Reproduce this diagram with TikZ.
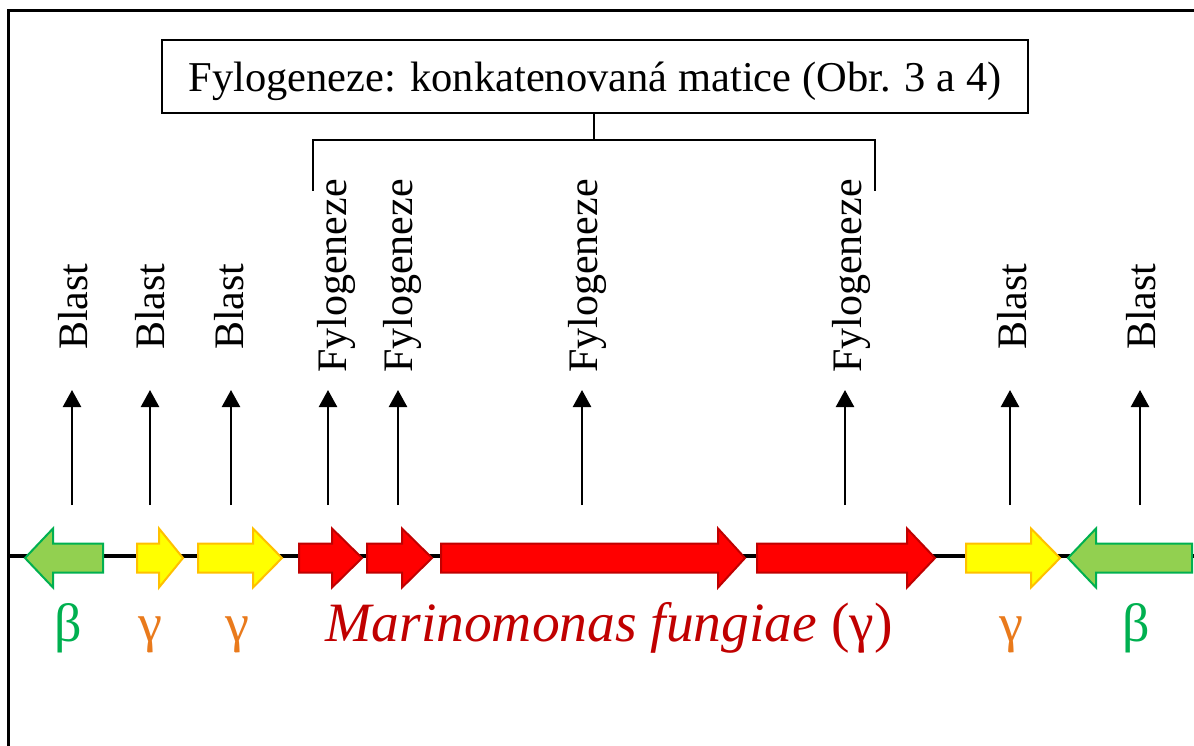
\documentclass[tikz,border=0pt]{standalone}
\usepackage{fontspec}
\setmainfont{Liberation Serif}
\usetikzlibrary{arrows.meta}

\definecolor{redfill}{HTML}{FF0000}
\definecolor{redline}{HTML}{C00000}
\definecolor{yellowfill}{HTML}{FFFF00}
\definecolor{yellowline}{HTML}{FFC000}
\definecolor{greenfill}{HTML}{92D050}
\definecolor{greenline}{HTML}{00B050}
\definecolor{gammaorange}{HTML}{E97A1C}

% gene arrow: fill, outline, tail x, head base x, tip x
\newcommand\genearrow[5]{%
  \filldraw[fill=#1, draw=#2, line width=2pt]
    (#3,543.5) -- (#4,543.5) -- (#4,528.5) -- (#5,558) -- (#4,587.5)
    -- (#4,572.5) -- (#3,572.5) -- cycle;}

\tikzset{
  lbl/.style={font=\fontsize{42}{50}\selectfont, inner sep=0pt, rotate=90, anchor=west},
  up/.style={line width=2.4pt, -{Triangle[width=18pt,length=17pt]}},
  blastup/.style={up, shorten >=40pt},
  fylup/.style={up, shorten >=17pt},
  greek/.style={font=\fontsize{54}{60}\selectfont, inner sep=0pt, anchor=base},
  species/.style={font=\fontsize{55.5}{62}\selectfont, inner sep=0pt, anchor=base},
  titlebox/.style={draw, line width=2pt, inner sep=0pt, minimum width=866pt,
    minimum height=73pt, text height=33pt, text depth=2pt,
    font=\fontsize{42.5}{50}\selectfont},
  bracket/.style={line width=2pt},
}

\begin{document}
\begin{tikzpicture}[x=1pt, y=-1pt]
  \useasboundingbox (0,0) rectangle (1194,746);

  % outer frame (top and left edges)
  \draw[line width=3.2pt] (8.3,746) -- (8.3,10.8) -- (1194,10.8);

  % chromosome line
  \draw[line width=4pt] (8.3,555.5) -- (1194,555.5);

  % genes
  \genearrow{greenfill}{greenline}{103}{53}{25}
  \genearrow{yellowfill}{yellowline}{137}{159}{183}
  \genearrow{yellowfill}{yellowline}{198}{253}{282}
  \genearrow{redfill}{redline}{299}{332}{362}
  \genearrow{redfill}{redline}{367}{402}{432}
  \genearrow{redfill}{redline}{441}{718}{745}
  \genearrow{redfill}{redline}{757}{907}{935}
  \genearrow{yellowfill}{yellowline}{966}{1031}{1060}
  \genearrow{greenfill}{greenline}{1192}{1096}{1068}

  % analysis labels
  \node[lbl] (b1) at (73.5,350) {Blast};
  \node[lbl] (b2) at (150,350) {Blast};
  \node[lbl] (b3) at (229,350) {Blast};
  \node[lbl] (f1) at (336,373) {Fylogeneze};
  \node[lbl] (f2) at (402,373) {Fylogeneze};
  \node[lbl] (f3) at (587,373) {Fylogeneze};
  \node[lbl] (f4) at (851,373) {Fylogeneze};
  \node[lbl] (b4) at (1012,350) {Blast};
  \node[lbl] (b5) at (1141,350) {Blast};

  % arrow start points above the genes
  \coordinate (s1) at (72,505);
  \coordinate (s2) at (150,505);
  \coordinate (s3) at (231,505);
  \coordinate (s4) at (328,505);
  \coordinate (s5) at (398,505);
  \coordinate (s6) at (582,505);
  \coordinate (s7) at (845,505);
  \coordinate (s8) at (1010,505);
  \coordinate (s9) at (1140,505);

  \draw[blastup] (s1) -- (s1 |- b1.west);
  \draw[blastup] (s2) -- (s2 |- b2.west);
  \draw[blastup] (s3) -- (s3 |- b3.west);
  \draw[fylup] (s4) -- (s4 |- f1.west);
  \draw[fylup] (s5) -- (s5 |- f2.west);
  \draw[fylup] (s6) -- (s6 |- f3.west);
  \draw[fylup] (s7) -- (s7 |- f4.west);
  \draw[blastup] (s8) -- (s8 |- b4.west);
  \draw[blastup] (s9) -- (s9 |- b5.west);

  % concatenated matrix box and bracket
  \node[titlebox] (title) at (595,76.5)
    {Fylogeneze: konkatenovaná matice (Obr. 3 a 4)\hspace{18pt}};
  \coordinate (bm) at (594,140);
  \coordinate (bl) at (313,140);
  \coordinate (br) at (875,140);
  \coordinate (blend) at (313,191);
  \coordinate (brend) at (875,191);
  \draw[bracket] (title.south -| bm) -- (bm);
  \draw[bracket] (blend) -- (bl) -- (br) -- (brend);

  % taxonomy labels
  \node[greek, text=greenline] (t1) at (68,641) {β};
  \node[greek, text=gammaorange] (t2) at (150,641) {γ};
  \node[greek, text=gammaorange] (t3) at (237,641) {γ};
  \node[species, text=redline] (sp) at (609,641) {\itshape Marinomonas fungiae\/ \upshape(γ)};
  \node[greek, text=gammaorange] (t4) at (1011,641) {γ};
  \node[greek, text=greenline] (t5) at (1136,641) {β};
\end{tikzpicture}
\end{document}
